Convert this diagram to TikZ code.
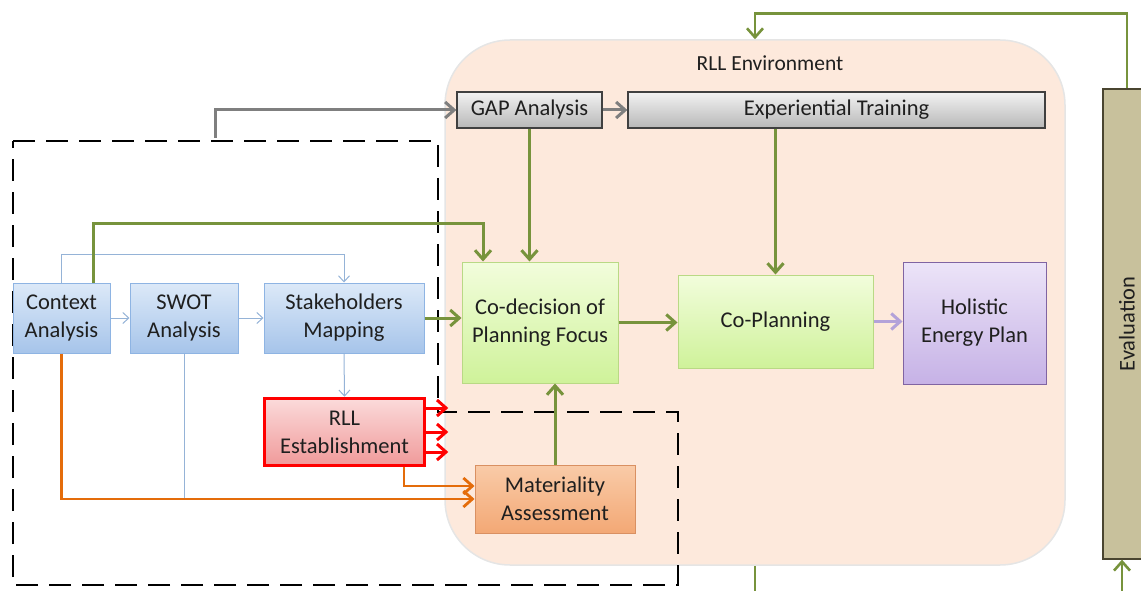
\documentclass[tikz,border=0pt]{standalone}
\usepackage{fontspec}
\setmainfont{Carlito}
\usetikzlibrary{arrows.meta,calc}
\definecolor{envfill}{HTML}{FDE9DC}
\definecolor{grn}{HTML}{77933C}
\definecolor{org}{HTML}{E46C0A}
\definecolor{gryarr}{HTML}{7F7F7F}
\definecolor{bluln}{HTML}{95B3D7}
\definecolor{blutop}{HTML}{DCE9F8}
\definecolor{blubot}{HTML}{A6C4EA}
\definecolor{bluedge}{HTML}{8EB4E3}
\definecolor{grntop}{HTML}{F2FDDC}
\definecolor{grnbot}{HTML}{CFF29A}
\definecolor{grnedge}{HTML}{B9D985}
\definecolor{purtop}{HTML}{ECE4F8}
\definecolor{purbot}{HTML}{C6B2E6}
\definecolor{puredge}{HTML}{8064A2}
\definecolor{redtop}{HTML}{FBDADA}
\definecolor{redbot}{HTML}{F09A9A}
\definecolor{orgtop}{HTML}{F9CBA8}
\definecolor{orgbot}{HTML}{F3A875}
\definecolor{orgedge}{HTML}{D99062}
\definecolor{evalfill}{HTML}{C8C19C}
\definecolor{evaledge}{HTML}{4A4530}
\definecolor{purarr}{HTML}{B3A2D9}
\tikzset{
  txt/.style={font=\fontsize{22.5}{28}\selectfont, align=center, text=black!88},
  bluebox/.style={txt, draw=bluedge, line width=1pt, top color=blutop, bottom color=blubot, inner sep=0pt},
  greenbox/.style={txt, draw=grnedge, line width=1pt, top color=grntop, bottom color=grnbot, inner sep=0pt},
  graybox/.style={txt, draw=black!75, line width=1.3pt, top color=black!5, bottom color=black!28, inner sep=0pt},
  purbox/.style={txt, draw=puredge, line width=1pt, top color=purtop, bottom color=purbot, inner sep=0pt},
  redbox/.style={txt, draw=red, line width=3.5pt, top color=redtop, bottom color=redbot, inner sep=0pt},
  orgbox/.style={txt, draw=orgedge, line width=1pt, top color=orgtop, bottom color=orgbot, inner sep=0pt},
  garr/.style={draw=grn, line width=3pt, -{Straight Barb[length=9pt,width=16pt]}},
  oarr/.style={draw=org, line width=2.8pt, -{Straight Barb[length=9pt,width=16pt]}},
  rarr/.style={draw=red, line width=3pt, -{Straight Barb[length=9pt,width=16pt]}},
  grarr/.style={draw=gryarr, line width=3pt, -{Straight Barb[length=9pt,width=16pt]}},
  barr/.style={draw=bluln, line width=1pt, -{Straight Barb[length=6pt,width=11pt]}},
  parr/.style={draw=purarr, line width=3pt, -{Straight Barb[length=9pt,width=16pt]}},
  dashbox/.style={draw=black, line width=2.6pt, dash pattern=on 22pt off 11pt}
}
\begin{document}
\begin{tikzpicture}[x=1pt,y=-1pt]
\useasboundingbox (0,0) rectangle (1141,591);
% environment
\node[draw=black!10, line width=1.5pt, fill=envfill, rounded corners=65pt, minimum width=620pt, minimum height=525pt, inner sep=0pt] (env) at (755,302.5) {};
\node[txt, font=\fontsize{21.5}{26}\selectfont] (envlbl) at (770,63) {RLL Environment};
% dashed outline
\draw[dashbox] (13,141) -- (438,141) -- (438,412) -- (678,412) -- (678,585) -- (13,585) -- cycle;
% boxes
\node[graybox, minimum width=145pt, minimum height=36pt] (gap) at (529.5,110) {GAP Analysis};
\node[graybox, minimum width=417pt, minimum height=36pt] (exp) at (836.5,110) {Experiential Training};
\node[bluebox, minimum width=97pt, minimum height=70pt] (ctx) at (61.5,318) {Context\\Analysis};
\node[bluebox, minimum width=108pt, minimum height=70pt] (swot) at (184,318) {SWOT\\Analysis};
\node[bluebox, minimum width=160pt, minimum height=70pt] (stk) at (344,318) {Stakeholders\\Mapping};
\node[greenbox, minimum width=156pt, minimum height=121pt] (cod) at (540,322.5) {Co-decision of\\Planning Focus};
\node[greenbox, minimum width=195pt, minimum height=93pt] (copl) at (775.5,321.5) {Co-Planning};
\node[purbox, minimum width=143pt, minimum height=122pt] (hep) at (974.5,323) {Holistic\\Energy Plan};
\node[redbox, minimum width=160pt, minimum height=67pt] (rll) at (344.5,432) {RLL\\Establishment};
\node[orgbox, minimum width=160pt, minimum height=68pt] (mat) at (555,499) {Materiality\\Assessment};
\node[draw=evaledge, line width=1.3pt, fill=evalfill, minimum width=48pt, minimum height=470pt, inner sep=0pt] (eval) at (1127,324) {};
\node[txt, rotate=90] (evallbl) at (eval.center) {Evaluation};
% connectors
\coordinate (gstart) at (215,138);
\draw[grarr] (gstart) |- (gap.west);
\draw[grarr] (gap.east) -- (exp.west);
\draw[garr] (gap.south) -- (gap.south |- cod.north);
\draw[garr] (copl.north |- exp.south) -- (copl.north);
\draw[barr] (ctx.east) -- (swot.west);
\draw[barr] (swot.east) -- (stk.west);
\draw[barr] (ctx.north) -- ++(0,-28) -| (stk.north);
\draw[garr] ([xshift=31.5pt]ctx.north) -- ++(0,-59) -| ([xshift=-57pt]cod.north);
\draw[garr] (stk.east) -- (stk.east -| cod.west);
\draw[garr] (cod.east) -- (cod.east -| copl.west);
\draw[parr] (copl.east) -- (copl.east -| hep.west);
\draw[barr] (stk.south) -- (rll.north);
\draw[rarr] ([yshift=-20pt]rll.east) -- ++(22,0);
\draw[rarr] (rll.east) -- ++(22,0);
\draw[rarr] ([yshift=24pt]rll.east) -- ++(22,0);
\draw[garr] (mat.north) -- (mat.north |- cod.south);
\draw[bluln, line width=1pt] (swot.south) -- (swot.south |- mat.west);
\draw[oarr] (ctx.south) |- (mat.west);
\draw[oarr] ([xshift=59.5pt]rll.south) |- ([yshift=13pt]mat.west);
\draw[grn, line width=2.6pt, -{Straight Barb[length=9pt,width=16pt]}] (eval.north) -- ++(0,-75) -| (env.north);
\coordinate (envout) at (755,591);
\draw[grn, line width=2.6pt] (env.south) -- (envout);
\coordinate (evalin) at (1122,591);
\draw[grn, line width=2.6pt, -{Straight Barb[length=9pt,width=16pt]}] (evalin) -- (evalin |- eval.south);
\end{tikzpicture}
\end{document}
